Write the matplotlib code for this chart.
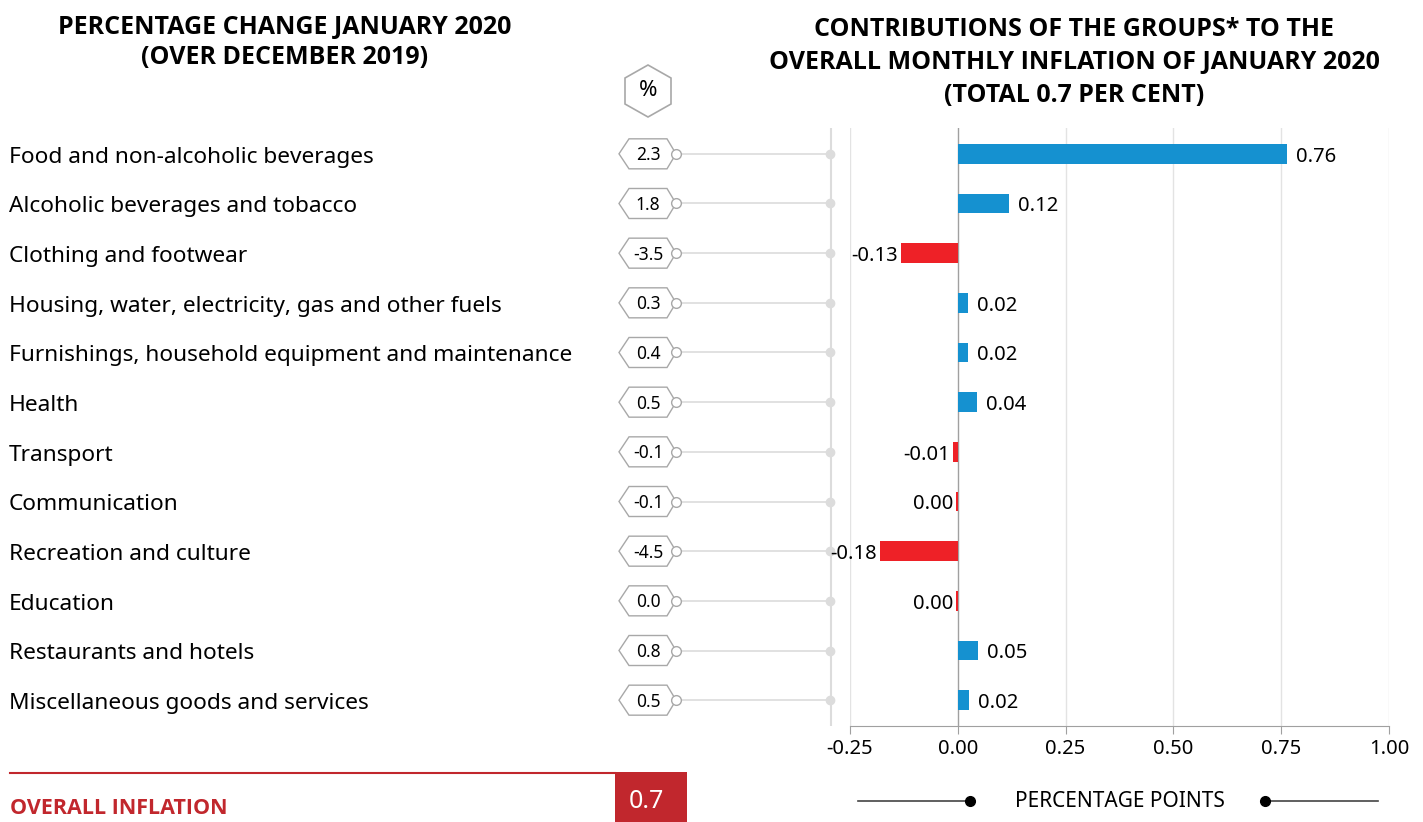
import matplotlib
matplotlib.use("Agg")
import matplotlib.pyplot as plt
from matplotlib.patches import Polygon, Rectangle
import numpy as np

plt.rcParams['font.family'] = ['Noto Sans', 'DejaVu Sans']
BOLD_FAMILY = ['Open Sans', 'DejaVu Sans']

categories = [
    "Food and non-alcoholic beverages",
    "Alcoholic beverages and tobacco",
    "Clothing and footwear",
    "Housing, water, electricity, gas and other fuels",
    "Furnishings, household equipment and maintenance",
    "Health",
    "Transport",
    "Communication",
    "Recreation and culture",
    "Education",
    "Restaurants and hotels",
    "Miscellaneous goods and services",
]
pct_change = [2.3, 1.8, -3.5, 0.3, 0.4, 0.5, -0.1, -0.1, -4.5, 0.0, 0.8, 0.5]
contributions = [0.763, 0.118, -0.132, 0.023, 0.023, 0.044, -0.012, -0.005, -0.181, -0.004, 0.046, 0.025]
contribution_labels = ["0.76", "0.12", "-0.13", "0.02", "0.02", "0.04", "-0.01", "0.00", "-0.18", "0.00", "0.05", "0.02"]
x_ticks = [-0.25, 0.0, 0.25, 0.50, 0.75, 1.00]
overall_inflation = "0.7"

W, H = 1423, 822
fig = plt.figure(figsize=(W / 100, H / 100), dpi=100)

BLUE = "#1591d0"
RED = "#ee2127"
DARKRED = "#c1272d"
GRID = "#e3e3e3"
FS_CAT = 16.3
FS_VAL = 14.5

ax_l = 850 / W
ax_r = 1389 / W
ax_b = 1 - 726 / H
ax_t = 1 - 128 / H

# Left panel sharing rows
y = np.arange(len(categories))
axL = fig.add_axes([0, ax_b, ax_l, ax_t - ax_b])
axL.set_xlim(0, 850)
axL.set_ylim(len(categories) - 1 + 0.52, -0.52)
axL.axis("off")
row_px = (726 - 128) / (len(categories) + 0.04)
hh = 15 / row_px  # half height in row units
for yi, cat, pc in zip(y, categories, pct_change):
    axL.text(9, yi + 0.07, cat, va="center", ha="left", fontsize=FS_CAT)
    poly = Polygon([(619, yi), (629, yi - hh), (667, yi - hh), (676, yi),
                    (667, yi + hh), (629, yi + hh)], closed=True,
                   facecolor="white", edgecolor="#a8a8a8", lw=1, zorder=3)
    axL.add_patch(poly)
    axL.text(648, yi + 0.03, f"{pc:.1f}", va="center", ha="center", fontsize=12.5, zorder=4)
    axL.plot([680, 830], [yi, yi], color="#dcdcdc", lw=1.2, zorder=2)
    axL.plot([676], [yi], marker="o", ms=7, mfc="white", mec="#a8a8a8", mew=1, zorder=4)
    axL.plot([830], [yi], marker="o", ms=6, mfc="#dcdcdc", mec="#dcdcdc", zorder=4)
axL.plot([831, 831], [-0.52, len(categories) - 1 + 0.52], color="#dcdcdc", lw=1.5, zorder=1)

ax = fig.add_axes([ax_l, ax_b, ax_r - ax_l, ax_t - ax_b], zorder=3)
ax.patch.set_alpha(0)
colors = [BLUE if v > 0 else RED for v in contributions]
ax.barh(y, contributions, height=0.4, color=colors, zorder=3)
ax.set_xlim(-0.25, 1.0)
ax.set_ylim(len(categories) - 1 + 0.52, -0.52)
ax.set_xticks(x_ticks)
ax.set_xticklabels([f"{t:.2f}" for t in x_ticks], fontsize=FS_VAL)
ax.set_yticks([])
for t in x_ticks:
    ax.axvline(t, color=GRID if t != 0 else "#a0a0a0", lw=1, zorder=1)
for s in ["top", "right", "left"]:
    ax.spines[s].set_visible(False)
ax.spines["bottom"].set_color("#a0a0a0")
ax.tick_params(axis="x", colors="#a0a0a0", labelcolor="black", length=6, pad=3)

for yi, v, lab in zip(y, contributions, contribution_labels):
    if v >= 0:
        ax.text(v + 0.022, yi + 0.06, lab, va="center", ha="left", fontsize=FS_VAL, zorder=5)
    else:
        ax.text(v - 0.006, yi + 0.06, lab, va="center", ha="right", fontsize=FS_VAL, zorder=5)
for t in ax.texts:
    t.set_clip_on(False)

# Overlay for decorations in pixel coordinates
ov = fig.add_axes([0, 0, 1, 1], zorder=-1)
ov.set_xlim(0, W)
ov.set_ylim(H, 0)
ov.axis("off")

tkw = dict(ha="center", va="center", fontsize=18, fontweight="bold", family=BOLD_FAMILY)
ov.text(285, 27, "PERCENTAGE CHANGE JANUARY 2020", **tkw)
ov.text(285, 58, "(OVER DECEMBER 2019)", **tkw)
ov.text(1074, 29, "CONTRIBUTIONS OF THE GROUPS* TO THE", **tkw)
ov.text(1074, 62, "OVERALL MONTHLY INFLATION OF JANUARY 2020", **tkw)
ov.text(1074, 96, "(TOTAL 0.7 PER CENT)", **tkw)

ov.add_patch(Polygon([(648, 65), (671, 78), (671, 104), (648, 117), (625, 104), (625, 78)],
                     closed=True, facecolor="white", edgecolor="#a8a8a8", lw=1.2))
ov.text(648, 91, "%", ha="center", va="center", fontsize=16)

# Overall inflation band
ov.plot([10, 615], [773, 773], color=DARKRED, lw=1.5)
ov.add_patch(Rectangle((615, 772), 72, 52, facecolor=DARKRED, edgecolor="none"))
ov.text(646, 801, overall_inflation, ha="center", va="center", color="white", fontsize=18)
ov.text(10, 808, "OVERALL INFLATION", ha="left", va="center", color=DARKRED,
        fontsize=15.5, fontweight="bold", family=BOLD_FAMILY)

# Percentage points legend
ov.plot([858, 970], [801, 801], color="#444444", lw=1.2)
ov.plot([970], [801], marker="o", ms=7, color="black")
ov.plot([1265, 1378], [801, 801], color="#444444", lw=1.2)
ov.plot([1265], [801], marker="o", ms=7, color="black")
ov.text(1120, 801, "PERCENTAGE POINTS", ha="center", va="center", fontsize=15)

fig.savefig("out.png", dpi=100)
